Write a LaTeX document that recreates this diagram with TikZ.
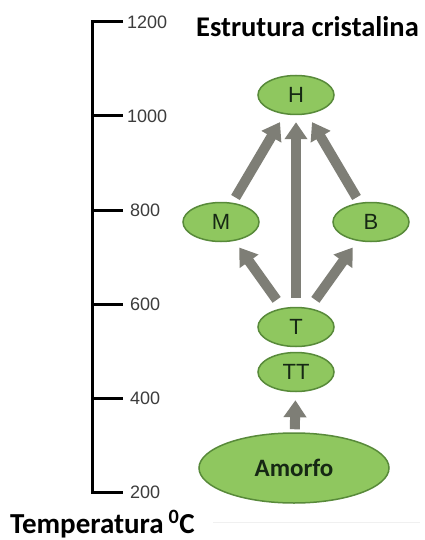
\documentclass[tikz,border=0pt]{standalone}
\usepackage{fontspec}
\setmainfont{Carlito}
\newfontfamily\labelfont{Liberation Sans}
\usetikzlibrary{arrows.meta,shapes.geometric}

\definecolor{phasefill}{RGB}{143,199,95}
\definecolor{phaseborder}{RGB}{88,138,58}
\definecolor{phasetext}{RGB}{22,40,20}
\definecolor{flowgray}{RGB}{126,126,118}
\definecolor{scalegray}{RGB}{60,60,60}

\tikzset{
  phase/.style={ellipse, draw=phaseborder, line width=1.5pt, fill=phasefill,
    minimum width=76pt, minimum height=39pt, inner sep=0pt, text=phasetext,
    font=\labelfont\fontsize{22}{22}\selectfont},
  flow/.style={draw=flowgray, line width=10pt, -{Triangle[width=22pt,length=17pt]}},
  scalelabel/.style={anchor=west, inner sep=0pt, text=scalegray,
    font=\labelfont\fontsize{18}{18}\selectfont},
  heading/.style={anchor=base west, inner sep=0pt, font=\bfseries\fontsize{28.5}{31}\selectfont}
}

\begin{document}
\begin{tikzpicture}[x=1pt, y=-1pt]
    \useasboundingbox[fill=white] (0,0) rectangle (424,540);

    % Temperature scale
    \draw[line width=3pt] (123,22) -- (92,22) -- (92,492) -- (123,492);
    \foreach \y in {116,210,304,398}
        \draw[line width=3pt] (92,\y) -- (123,\y);
    \node[scalelabel] (t1200) at (127,22) {1200};
    \node[scalelabel] (t1000) at (127,116) {1000};
    \node[scalelabel] (t800) at (130,210) {800};
    \node[scalelabel] (t600) at (130,304) {600};
    \node[scalelabel] (t400) at (130,398) {400};
    \node[scalelabel] (t200) at (130,492) {200};

    % Titles
    \node[heading] (title) at (196,37) {Estrutura cristalina};
    \node[heading, font=\bfseries\fontsize{29}{31}\selectfont] (axistitle) at (10,533)
        {Temperatura\,\textsuperscript{0}C};
    \draw[gray!12, line width=1pt] (213,522) -- (420,522);

    % Phases
    \node[phase] (H) at (296,95) {H};
    \node[phase] (M) at (221,222) {M};
    \node[phase] (B) at (371,222) {B};
    \node[phase] (T) at (296,327) {T};
    \node[phase] (TT) at (296,372) {TT};
    \node[phase, minimum width=190pt, minimum height=70pt,
          font=\bfseries\fontsize{25}{25}\selectfont] (amorfo) at (294,468) {Amorfo};

    % Transformations
    \draw[flow, shorten <=3pt, shorten >=8pt] (amorfo) -- (TT);
    \draw[flow, shorten <=10pt, shorten >=8pt] (T) -- (M);
    \draw[flow, shorten <=10pt, shorten >=8pt] (T) -- (B);
    \draw[flow, shorten <=9pt, shorten >=7pt] (T) -- (H);
    \draw[flow, shorten <=6pt, shorten >=9pt] (M) -- (H);
    \draw[flow, shorten <=6pt, shorten >=9pt] (B) -- (H);
\end{tikzpicture}
\end{document}
